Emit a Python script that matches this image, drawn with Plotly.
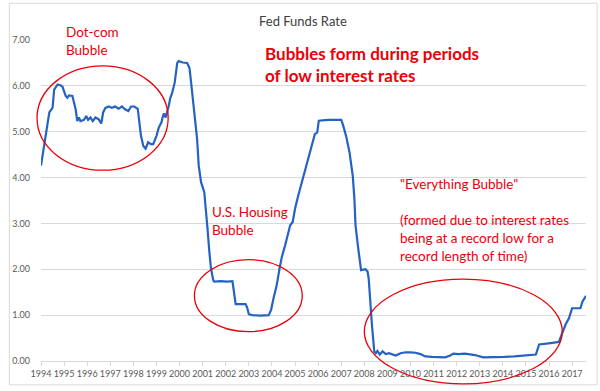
import plotly.graph_objects as go

# ---- data (decimal years, percent) ----
dates = [
    1994.00, 1994.29, 1994.36, 1994.50, 1994.57, 1994.72, 1994.86, 1994.93, 1995.07, 1995.14,
    1995.21, 1995.36, 1995.43, 1995.50, 1995.57, 1995.64, 1995.71, 1995.86, 1995.96, 1996.04,
    1996.14, 1996.24, 1996.36, 1996.50, 1996.61, 1996.69, 1996.79, 1996.93, 1997.07, 1997.21,
    1997.36, 1997.50, 1997.64, 1997.78, 1997.90, 1998.04, 1998.19, 1998.24, 1998.33, 1998.43,
    1998.53, 1998.64, 1998.76, 1998.86, 1999.00, 1999.10, 1999.22, 1999.28, 1999.33, 1999.40,
    1999.47, 1999.53, 1999.60, 1999.67, 1999.79, 1999.90, 1999.96, 2000.14, 2000.33, 2000.43,
    2000.50, 2000.64, 2000.76, 2000.83, 2000.93, 2001.07, 2001.14, 2001.21, 2001.29, 2001.36,
    2001.46, 2001.50, 2001.79, 2002.07, 2002.29, 2002.33, 2002.43, 2002.64, 2002.86, 2002.93,
    2003.00, 2003.14, 2003.50, 2003.86, 2003.96, 2004.07, 2004.21, 2004.33, 2004.43, 2004.57,
    2004.71, 2004.79, 2004.90, 2005.00, 2005.14, 2005.29, 2005.39, 2005.53, 2005.67, 2005.86,
    2005.96, 2006.03, 2006.43, 2007.00, 2007.07, 2007.21, 2007.36, 2007.50, 2007.57, 2007.62,
    2007.72, 2007.86, 2008.05, 2008.14, 2008.19, 2008.24, 2008.33, 2008.43, 2008.50, 2008.57,
    2008.67, 2008.79, 2008.93, 2009.07, 2009.22, 2009.36, 2009.57, 2009.79, 2010.00, 2010.22,
    2010.43, 2010.64, 2010.93, 2011.22, 2011.50, 2011.72, 2011.86, 2012.07, 2012.36, 2012.65,
    2012.79, 2013.15, 2013.64, 2014.07, 2014.50, 2014.93, 2015.36, 2015.43, 2015.57, 2015.86,
    2016.07, 2016.36, 2016.43, 2016.58, 2016.72, 2016.86, 2017.00, 2017.36, 2017.45, 2017.60,
]
rates = [
    4.26, 5.20, 5.42, 5.52, 5.92, 6.03, 6.01, 5.98, 5.78, 5.74,
    5.79, 5.78, 5.63, 5.49, 5.23, 5.31, 5.23, 5.26, 5.34, 5.26,
    5.31, 5.23, 5.31, 5.27, 5.18, 5.42, 5.52, 5.55, 5.52, 5.55,
    5.50, 5.55, 5.49, 5.45, 5.55, 5.55, 5.50, 5.27, 4.91, 4.69,
    4.63, 4.77, 4.73, 4.73, 4.91, 5.09, 5.21, 5.34, 5.40, 5.31,
    5.42, 5.56, 5.74, 5.83, 6.07, 6.50, 6.54, 6.51, 6.50, 6.39,
    6.07, 5.42, 4.84, 4.26, 3.90, 3.68, 3.32, 2.89, 2.38, 2.02,
    1.76, 1.73, 1.74, 1.73, 1.74, 1.58, 1.24, 1.24, 1.24, 1.16,
    1.02, 1.00, 0.99, 1.00, 1.11, 1.37, 1.66, 2.02, 2.27, 2.52,
    2.81, 2.96, 3.03, 3.32, 3.61, 3.90, 4.04, 4.33, 4.62, 4.95,
    4.98, 5.24, 5.26, 5.26, 5.16, 4.91, 4.55, 4.04, 3.54, 2.96,
    2.52, 1.98, 2.00, 1.95, 1.80, 1.37, 0.79, 0.21, 0.17, 0.22,
    0.14, 0.21, 0.15, 0.17, 0.14, 0.12, 0.17, 0.19, 0.19, 0.18,
    0.15, 0.10, 0.09, 0.09, 0.08, 0.12, 0.16, 0.15, 0.16, 0.14,
    0.13, 0.08, 0.08, 0.09, 0.10, 0.12, 0.14, 0.14, 0.36, 0.37,
    0.39, 0.41, 0.42, 0.62, 0.80, 0.93, 1.15, 1.15, 1.30, 1.42,
]
year_ticks = list(range(1994, 2018))
year_labels = [str(y) for y in year_ticks]
y_ticks = [0, 1, 2, 3, 4, 5, 6, 7]

title_text = "Fed Funds Rate"
headline = ["Bubbles form during periods", "of low interest rates"]
dotcom_label = ["Dot-com", "Bubble"]
housing_label = ["U.S. Housing", "Bubble"]
everything_label = ['"Everything Bubble"']
everything_note = ["(formed due to interest rates", "being at a record low for a",
                   "record length of time)"]

# ---- geometry helpers (pixel -> paper) ----
W, H = 600, 391
L, R, T, B = 35, 14.3, 40, 28
PW, PH = W - L - R, H - T - B


def px(x):
    return (x - L) / PW


def py(y):
    return (H - B - y) / PH


FONT = "Lato, 'Open Sans', sans-serif"
RED = "#ea0008"
BLUE = "#2462c4"

fig = go.Figure()
fig.add_trace(go.Scatter(
    x=dates, y=rates, mode="lines",
    line=dict(color=BLUE, width=2.2),
    hoverinfo="skip", showlegend=False,
))

annotations = []


def add_lines(lines, x, y0, dy, size, color, bold=False, anchor="left"):
    for i, t in enumerate(lines):
        annotations.append(dict(
            text=f"<b>{t}</b>" if bold else t,
            x=px(x), y=py(y0 + i * dy), xref="paper", yref="paper",
            xanchor=anchor, yanchor="middle", showarrow=False,
            font=dict(family=FONT, size=size, color=color),
        ))


add_lines([title_text], 300, 20.5, 0, 13, "#404040", anchor="center")
add_lines(dotcom_label, 58, 32, 18, 13.5, RED)
add_lines(headline, 259, 54, 22, 17, RED, bold=True)
add_lines(housing_label, 206, 213, 18, 13.5, RED)
add_lines(everything_label, 396, 185, 0, 13.5, RED)
add_lines(everything_note, 396, 221, 18, 13.5, RED)

shapes = [
    dict(type="rect", xref="paper", yref="paper",
         x0=px(3), x1=px(597), y0=py(387), y1=py(3),
         line=dict(color="#d9d9d9", width=1), layer="below"),
    dict(type="circle", xref="paper", yref="paper",
         x0=px(31), x1=px(163.5), y0=py(171), y1=py(66),
         line=dict(color=RED, width=1.3)),
    dict(type="circle", xref="paper", yref="paper",
         x0=px(190), x1=px(299), y0=py(333.5), y1=py(261),
         line=dict(color=RED, width=1.3)),
    dict(type="circle", xref="paper", yref="paper",
         x0=px(361.7), x1=px(561.7), y0=py(386), y1=py(280.7),
         line=dict(color=RED, width=1.3)),
]

fig.update_layout(
    width=W, height=H,
    margin=dict(l=L, r=R, t=T, b=B, pad=0),
    paper_bgcolor="white", plot_bgcolor="white",
    font=dict(family=FONT, color="#595959"),
    showlegend=False,
    annotations=annotations,
    shapes=shapes,
    xaxis=dict(
        range=[1994, 2017.6], tickmode="array", tickvals=year_ticks, ticktext=year_labels,
        showgrid=False, zeroline=False, showline=True, linecolor="#d9d9d9", linewidth=1,
        ticks="outside", ticklen=4, tickcolor="#d9d9d9",
        tickfont=dict(family=FONT, size=9, color="#595959"), tickangle=0,
    ),
    yaxis=dict(
        range=[0, 7], tickmode="array", tickvals=y_ticks, tickformat=".2f",
        showgrid=True, gridcolor="#d9d9d9", gridwidth=1, zeroline=False, showline=False,
        ticks="", ticklabelstandoff=10,
        tickfont=dict(family=FONT, size=9, color="#595959"),
    ),
)

fig.write_html("out.html", config={"displayModeBar": False},
               post_script="document.body.style.margin='0';")
